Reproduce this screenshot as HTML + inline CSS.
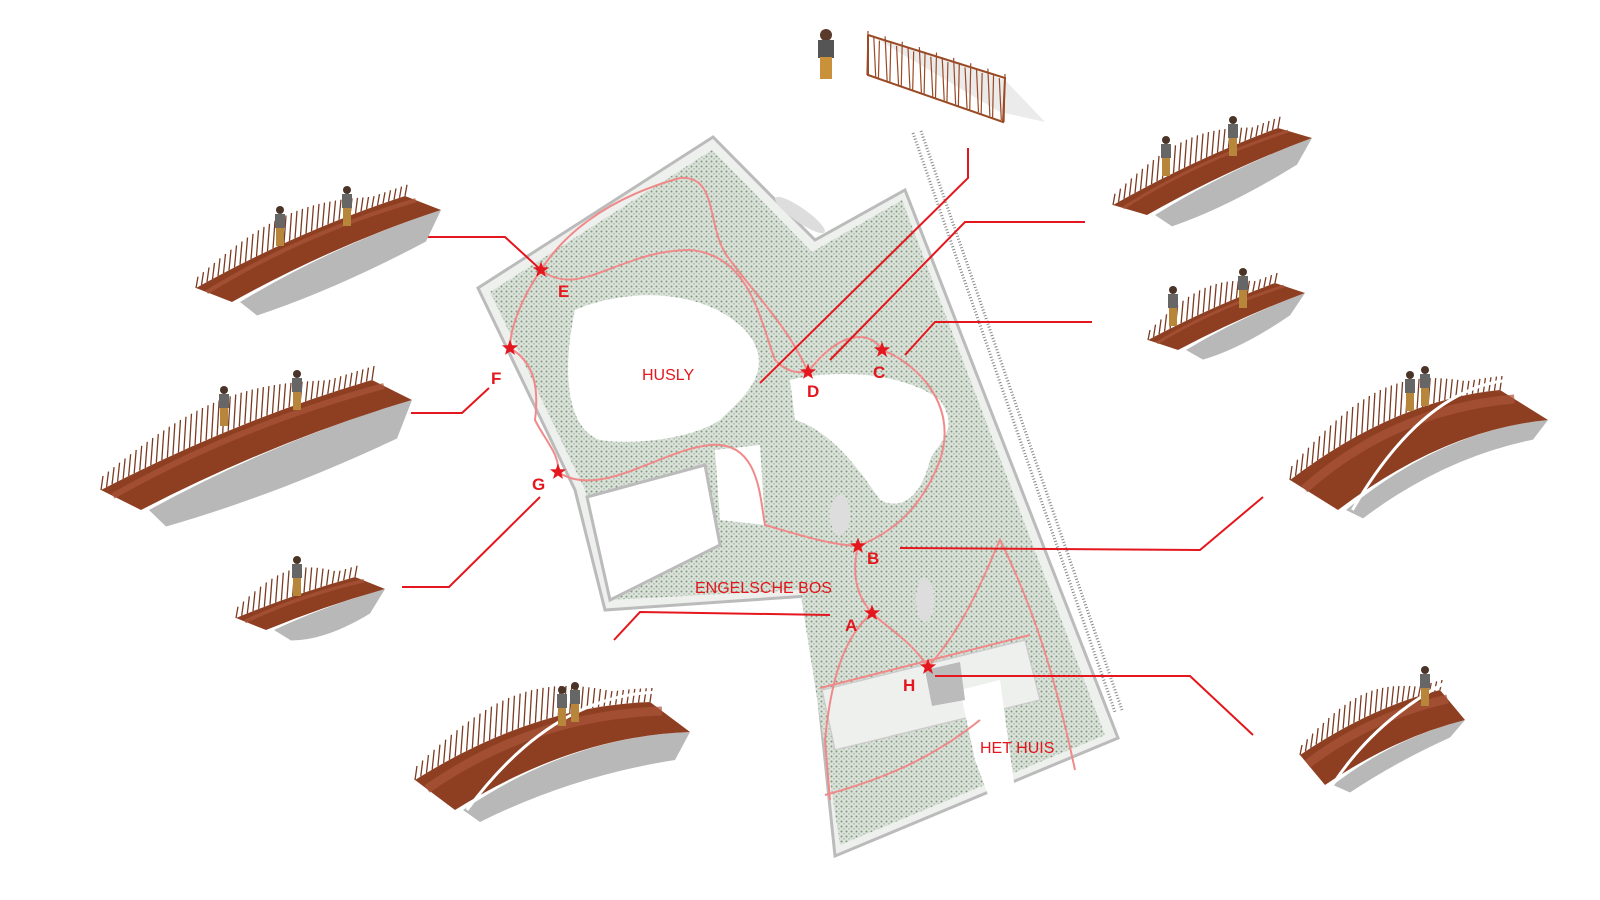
<!DOCTYPE html>
<html><head><meta charset="utf-8"><style>
html,body{margin:0;padding:0;background:#fff;}
svg{display:block;}
text{font-family:"Liberation Sans",sans-serif;}
</style></head><body>
<svg id="s" width="1600" height="900" viewBox="0 0 1600 900" xmlns="http://www.w3.org/2000/svg">
<defs>
<pattern id="tr" width="5" height="5" patternUnits="userSpaceOnUse">
<rect width="5" height="5" fill="#dbe2da"/>
<circle cx="1.5" cy="1.5" r="1" fill="#7f987e"/>
<circle cx="4" cy="3.8" r="0.8" fill="#a3b5a2"/>
</pattern>
</defs>
<!-- railway -->
<line x1="913" y1="133" x2="1115" y2="712" stroke="#888" stroke-width="3" stroke-dasharray="1 2"/>
<line x1="921" y1="131" x2="1122" y2="710" stroke="#888" stroke-width="3" stroke-dasharray="1 2"/>
<!-- park outline -->
<polygon points="478,288 713,137 815,240 905,190 1118,738 835,856 808,596 605,610 575,490" fill="#eef0ee" stroke="#bbb" stroke-width="3"/>
<polygon points="490,292 712,150 812,252 902,200 1105,735 840,845 800,590 610,600 585,490" fill="url(#tr)"/>
<!-- clearings -->
<path d="M575,310 C620,290 700,285 745,330 C780,370 740,400 720,420 C690,440 630,445 600,440 C570,430 560,380 575,310 Z" fill="#fff"/>
<path d="M790,380 C830,370 900,370 940,400 C960,430 940,440 930,460 C920,500 900,510 880,500 C860,470 830,430 795,420 Z" fill="#fff"/>
<path d="M587,497 L705,465 L720,545 L610,600 Z" fill="#fff" stroke="#bbb" stroke-width="3"/>
<path d="M715,450 L760,445 L765,525 L720,520 Z" fill="#fff"/>
<path d="M822,690 L1025,640 L1040,700 L835,750 Z" fill="#eef0ee" stroke="#ccc" stroke-width="1.5"/>
<path d="M960,690 L1000,680 L1015,790 L990,800 L975,760 Z" fill="#fff"/>
<path d="M925,670 L960,662 L965,700 L932,706 Z" fill="#bbb"/>
<ellipse cx="925" cy="600" rx="9" ry="22" fill="#ddd"/>
<ellipse cx="840" cy="515" rx="10" ry="20" fill="#ddd"/>
<ellipse cx="800" cy="215" rx="30" ry="7" fill="#ddd" transform="rotate(35 800 215)"/>
<!-- red paths -->
<g fill="none" stroke="#f08a8a" stroke-width="2">
<path d="M541,270 C560,240 600,200 680,178 C720,175 705,230 730,260 C760,300 790,330 808,372"/>
<path d="M541,270 C580,300 620,250 690,250 C750,255 760,320 775,360 C790,375 800,372 808,372"/>
<path d="M541,270 C520,300 510,330 510,348 C530,360 540,380 535,420 C545,440 560,455 558,472"/>
<path d="M558,472 C600,500 660,450 710,445 C760,440 760,500 765,525 C800,535 830,545 858,546"/>
<path d="M808,372 C840,330 870,330 882,350 C910,360 960,400 940,460 C925,500 900,530 858,546"/>
<path d="M858,546 C850,580 860,600 872,613 C890,630 910,640 928,667"/>
<path d="M872,613 C840,640 830,690 825,740 L830,800"/>
<path d="M928,667 C970,620 990,560 1000,540 C1040,620 1060,700 1075,770"/>
<path d="M820,688 L1030,635"/>
<path d="M825,795 C880,780 930,760 980,720"/>
</g>
<!-- leader lines -->
<g fill="none" stroke="#e3171d" stroke-width="2">
<polyline points="541,270 505,237 427,237"/>
<polyline points="489,388 462,413 411,413"/>
<polyline points="540,497 449,587 402,587"/>
<polyline points="830,615 640,612 614,640"/>
<polyline points="760,383 968,178 968,148"/>
<polyline points="830,360 965,222 1085,222"/>
<polyline points="905,355 935,322 1092,322"/>
<polyline points="900,548 1200,550 1263,497"/>
<polyline points="935,676 1190,676 1253,735"/>
</g>
<g id="stars" fill="#e3171d"></g>
<g fill="#e3171d" font-weight="bold" font-size="17">
<text x="558" y="297">E</text><text x="491" y="384">F</text><text x="532" y="490">G</text>
<text x="807" y="397">D</text><text x="873" y="378">C</text><text x="867" y="564">B</text>
<text x="845" y="631">A</text><text x="903" y="691">H</text>
</g>
<g fill="#e3171d" font-size="16">
<text x="642" y="380">HUSLY</text>
<text x="695" y="593">ENGELSCHE BOS</text>
<text x="980" y="753">HET HUIS</text>
</g>
<!-- fence -->
<polygon points="868,34 1005,80 1045,122 1000,112" fill="#ddd" opacity="0.6"/>
<g stroke="#9a4a25" stroke-width="2" fill="none">
<polyline points="868,35 1005,78 1003,122 868,75 868,35"/>
</g>
<g id="fence" stroke="#9a4a25" stroke-width="1.2"></g>
<g id="br"></g>
<circle cx="826" cy="35" r="6" fill="#5a3a2a"/>
<rect x="818" y="40" width="16" height="18" fill="#555"/>
<rect x="820" y="57" width="12" height="22" fill="#c8913a"/>
</svg>
<script>
var NS="http://www.w3.org/2000/svg",st=document.getElementById('stars');
[[541,270],[510,348],[558,472],[808,372],[882,350],[858,546],[872,613],[928,667]].forEach(function(p){
var pts=[];for(var i=0;i<10;i++){var r=i%2?3.5:8.5,a=-Math.PI/2+i*Math.PI/5;pts.push((p[0]+r*Math.cos(a)).toFixed(1)+','+(p[1]+r*Math.sin(a)).toFixed(1));}
var e=document.createElementNS(NS,'polygon');e.setAttribute('points',pts.join(' '));st.appendChild(e);});
var fe=document.getElementById('fence');
for(var i=0;i<=24;i++){var t=i/24,x=868+137*t,y1=35+43*t,y2=75+47*t;var l=document.createElementNS(NS,'line');
l.setAttribute('x1',x);l.setAttribute('y1',y1-4+(i%3)*3);l.setAttribute('x2',x+(i%2?2:-1));l.setAttribute('y2',y2);fe.appendChild(l);}
var br=document.getElementById('br');
function add(tag,at){var e=document.createElementNS(NS,tag);for(var k in at)e.setAttribute(k,at[k]);br.appendChild(e);return e;}
function bridge(L,R,f,d,arch,rh,curve){
var mx=(L[0]+R[0])/2,my=(L[1]+R[1])/2-arch;
var FL=[L[0]+f[0],L[1]+f[1]],FR=[R[0]+f[0],R[1]+f[1]];
var fmx=(FL[0]+FR[0])/2,fmy=(FL[1]+FR[1])/2-arch;
add('path',{d:'M'+(FL[0]+8)+','+FL[1]+' Q'+fmx+','+fmy+' '+FR[0]+','+FR[1]+' L'+(FR[0]-15)+','+(FR[1]+d*0.7)+' Q'+fmx+','+(fmy+d)+' '+(FL[0]+25)+','+(FL[1]+d*0.3)+' Z',fill:'#b8b8b8'});
add('path',{d:'M'+L[0]+','+L[1]+' Q'+mx+','+my+' '+R[0]+','+R[1]+' L'+FR[0]+','+FR[1]+' Q'+fmx+','+fmy+' '+FL[0]+','+FL[1]+' Z',fill:'#8e3f22'});
add('path',{d:'M'+(L[0]+f[0]*0.3)+','+(L[1]+f[1]*0.3)+' Q'+mx+','+(my+f[1]*0.3)+' '+(R[0]+f[0]*0.3)+','+(R[1]+f[1]*0.3),stroke:'#a9553a','stroke-width':Math.max(3,f[1]*0.3),fill:'none',opacity:0.7});
var n=Math.round(Math.hypot(R[0]-L[0],R[1]-L[1])/6);
for(var i=0;i<=n;i++){var t=i/n,x=(1-t)*(1-t)*L[0]+2*t*(1-t)*mx+t*t*R[0],y=(1-t)*(1-t)*L[1]+2*t*(1-t)*my+t*t*R[1];
var h=rh*(0.4+0.6*Math.sin(Math.PI*Math.min(1,t*1.2)));
add('line',{x1:x,y1:y,x2:x+2,y2:y-h,stroke:'#7a3b22','stroke-width':1.3});}
if(curve){add('path',{d:'M'+(FL[0]+f[0]*0.3)+','+FL[1]+' Q'+(fmx-20)+','+(fmy-arch*1.2)+' '+(R[0]+10)+','+(R[1]-10),stroke:'#fff','stroke-width':3,fill:'none'});}
}
bridge([196,288],[405,196],[36,14],45,12,28,false);
bridge([101,490],[372,380],[40,20],55,15,35,false);
bridge([236,618],[355,577],[30,12],35,4,28,false);
bridge([1113,205],[1278,128],[34,10],38,8,28,false);
bridge([1148,340],[1275,283],[30,10],32,5,25,false);
bridge([1290,480],[1500,390],[48,30],28,35,35,true);
bridge([415,780],[650,702],[40,30],40,35,35,true);
bridge([1300,755],[1440,690],[25,30],25,15,25,true);
[[280,220],[347,200],[224,400],[297,384],[297,570],[1166,150],[1233,130],[1173,300],[1243,282],[1410,385],[1425,380],[562,700],[575,696],[1425,680]].forEach(function(p){
add('circle',{cx:p[0],cy:p[1]-10,r:4,fill:'#4a3428'});add('rect',{x:p[0]-5,y:p[1]-6,width:10,height:14,fill:'#666'});add('rect',{x:p[0]-4,y:p[1]+8,width:8,height:18,fill:'#b8863a'});});
</script>
</body></html>
